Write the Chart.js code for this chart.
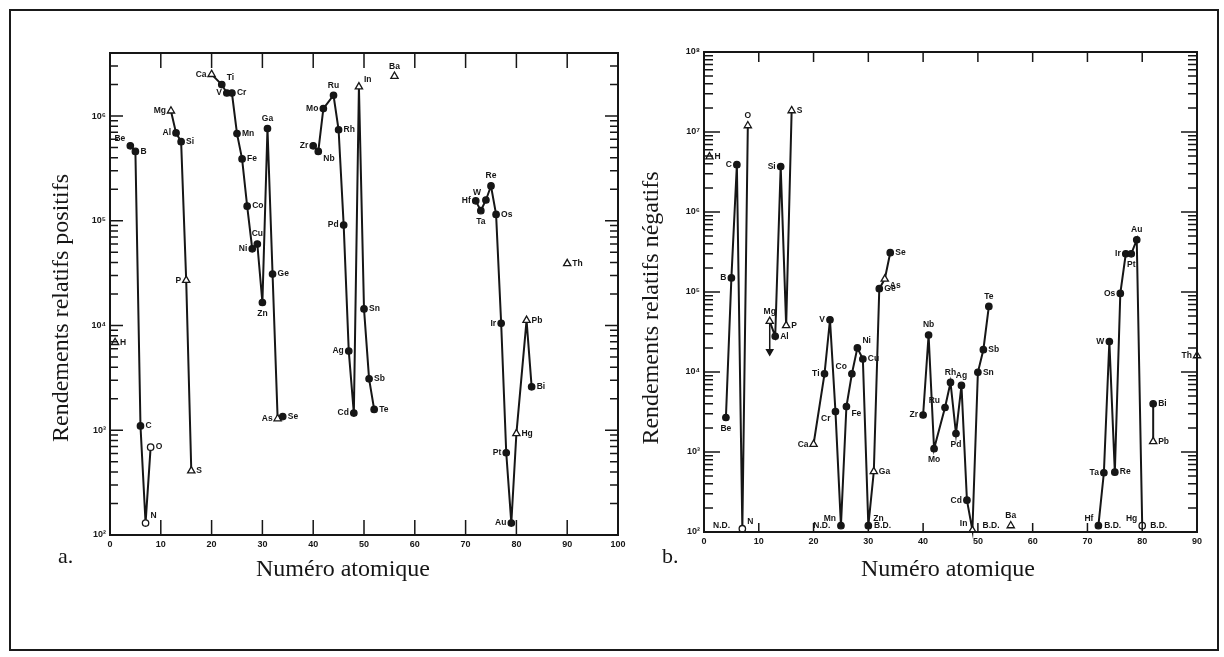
<!DOCTYPE html>
<html>
<head>
<meta charset="utf-8">
<script src="https://cdn.jsdelivr.net/npm/chart.js@4.4.0/dist/chart.umd.min.js"></script>
<style>
  html, body { margin: 0; padding: 0; background: #fff; }
  body { width: 1224px; height: 657px; position: relative; overflow: hidden; }
  #frame { position: absolute; left: 9px; top: 9px; width: 1206px; height: 638px; border: 2px solid #1a1a1a; }
  .pane { position: absolute; top: 0; height: 657px; }
</style>
</head>
<body>
<div id="frame"></div>
<div class="pane" style="left:0;width:640px"><canvas id="pos" width="640" height="657"></canvas></div>
<div class="pane" style="left:640px;width:584px"><canvas id="neg" width="584" height="657"></canvas></div>
<script>
// a. rendements relatifs positifs
const a1Z = [4, 5, 6, 7, 8]
const a1Y = [5.2e5, 4.6e5, 1.1e3, 1.3e2, 6.9e2]
const a1El = ['Be', 'B', 'C', 'N', 'O']
const a1Sym = ['o', 'o', 'o', 'c', 'c']
const a1Pos = ['tl', 'r', 'r', 'tr', 'r']

const a2Z = [12, 13, 14, 15, 16]
const a2Y = [1.12e6, 6.9e5, 5.7e5, 2.7e4, 4.1e2]
const a2El = ['Mg', 'Al', 'Si', 'P', 'S']
const a2Sym = ['t', 'o', 'o', 't', 't']
const a2Pos = ['l', 'l', 'r', 'l', 'r']

const a3Z = [20, 22, 23, 24, 25, 26, 27, 28, 29, 30, 31, 32, 33, 34]
const a3Y = [2.5e6, 2.0e6, 1.66e6, 1.66e6, 6.8e5, 3.9e5, 1.38e5, 5.4e4, 6.0e4, 1.66e4, 7.6e5, 3.1e4, 1.29e3, 1.35e3]
const a3El = ['Ca', 'Ti', 'V', 'Cr', 'Mn', 'Fe', 'Co', 'Ni', 'Cu', 'Zn', 'Ga', 'Ge', 'As', 'Se']
const a3Sym = ['t', 'o', 'o', 'o', 'o', 'o', 'o', 'o', 'o', 'o', 'o', 'o', 't', 'o']
const a3Pos = ['l', 'tr', 'l', 'r', 'r', 'r', 'r', 'l', 't', 'b', 't', 'r', 'l', 'r']

const a4Z = [40, 41, 42, 44, 45, 46, 47, 48, 49, 50, 51, 52]
const a4Y = [5.2e5, 4.6e5, 1.18e6, 1.58e6, 7.4e5, 9.1e4, 5.7e3, 1.46e3, 1.9e6, 1.44e4, 3.1e3, 1.58e3]
const a4El = ['Zr', 'Nb', 'Mo', 'Ru', 'Rh', 'Pd', 'Ag', 'Cd', 'In', 'Sn', 'Sb', 'Te']
const a4Sym = ['o', 'o', 'o', 'o', 'o', 'o', 'o', 'o', 't', 'o', 'o', 'o']
const a4Pos = ['l', 'br', 'l', 't', 'r', 'l', 'l', 'l', 'tr', 'r', 'r', 'r']

const a5Z = [72, 73, 74, 75, 76, 77, 78, 79, 80, 82, 83]
const a5Y = [1.55e5, 1.25e5, 1.58e5, 2.15e5, 1.15e5, 1.05e4, 6.1e2, 1.3e2, 9.3e2, 1.12e4, 2.6e3]
const a5El = ['Hf', 'Ta', 'W', 'Re', 'Os', 'Ir', 'Pt', 'Au', 'Hg', 'Pb', 'Bi']
const a5Sym = ['o', 'o', 'o', 'o', 'o', 'o', 'o', 'o', 't', 't', 'o']
const a5Pos = ['l', 'b', 'tl', 't', 'r', 'l', 'l', 'l', 'r', 'r', 'r']

const aSoloZ = [1, 56, 90]
const aSoloY = [6.9e3, 2.4e6, 3.9e4]
const aSoloEl = ['H', 'Ba', 'Th']
const aSoloPos = ['r', 't', 'r']

const aXTicks = [0, 10, 20, 30, 40, 50, 60, 70, 80, 90, 100]
const aYTicks = [1e2, 1e3, 1e4, 1e5, 1e6]

// b. rendements relatifs negatifs
const b1Z = [4, 5, 6, 7, 8]
const b1Y = [2.7e3, 1.5e5, 3.9e6, 1.1e2, 1.2e7]
const b1El = ['Be', 'B', 'C', 'N', 'O']
const b1Sym = ['o', 'o', 'o', 'c', 't']
const b1Pos = ['b', 'l', 'l', 'tr', 't']

const b2Z = [12, 13, 14, 15, 16]
const b2Y = [4.3e4, 2.8e4, 3.7e6, 3.8e4, 1.85e7]
const b2El = ['Mg', 'Al', 'Si', 'P', 'S']
const b2Sym = ['t', 'o', 'o', 't', 't']
const b2Pos = ['t', 'r', 'l', 'r', 'r']

const b3Z = [20, 22, 23, 24, 25, 26, 27, 28, 29, 30, 31, 32, 33, 34]
const b3Y = [1.25e3, 9.5e3, 4.5e4, 3.2e3, 1.2e2, 3.7e3, 9.5e3, 2.0e4, 1.45e4, 1.2e2, 5.7e2, 1.1e5, 1.45e5, 3.1e5]
const b3El = ['Ca', 'Ti', 'V', 'Cr', 'Mn', 'Fe', 'Co', 'Ni', 'Cu', 'Zn', 'Ga', 'Ge', 'As', 'Se']
const b3Sym = ['t', 'o', 'o', 'o', 'o', 'o', 'o', 'o', 'o', 'o', 't', 'o', 't', 'o']
const b3Pos = ['l', 'l', 'l', 'bl', 'tl', 'br', 'tl', 'tr', 'r', 'tr', 'r', 'r', 'br', 'r']

const b4Z = [40, 41, 42, 44, 45, 46, 47, 48, 49, 50, 51, 52]
const b4Y = [2.9e3, 2.9e4, 1.1e3, 3.6e3, 7.4e3, 1.7e3, 6.8e3, 2.5e2, 1.05e2, 9.9e3, 1.9e4, 6.6e4]
const b4El = ['Zr', 'Nb', 'Mo', 'Ru', 'Rh', 'Pd', 'Ag', 'Cd', 'In', 'Sn', 'Sb', 'Te']
const b4Sym = ['o', 'o', 'o', 'o', 'o', 'o', 'o', 'o', 't', 'o', 'o', 'o']
const b4Pos = ['l', 't', 'b', 'tl', 't', 'b', 't', 'l', 'tl', 'r', 'r', 't']

const b5Z = [72, 73, 74, 75, 76, 77, 78, 79, 80]
const b5Y = [1.2e2, 5.5e2, 2.4e4, 5.6e2, 9.6e4, 3.0e5, 3.0e5, 4.5e5, 1.2e2]
const b5El = ['Hf', 'Ta', 'W', 'Re', 'Os', 'Ir', 'Pt', 'Au', 'Hg']
const b5Sym = ['o', 'o', 'o', 'o', 'o', 'o', 'o', 'o', 'c']
const b5Pos = ['tl', 'l', 'l', 'r', 'l', 'l', 'b', 't', 'tl']

const b6Z = [82, 82]
const b6Y = [1.35e3, 4.0e3]
const b6El = ['Pb', 'Bi']
const b6Sym = ['t', 'o']
const b6Pos = ['r', 'r']

const bSoloZ = [1, 56, 90]
const bSoloY = [4.9e6, 1.2e2, 1.6e4]
const bSoloEl = ['H', 'Ba', 'Th']
const bSoloPos = ['r', 't', 'l']

// fleche sous Mg
const bArrowZ = [12, 12]
const bArrowY = [4.3e4, 1.8e4]

// N.D. / B.D. au pied de l'axe
const bNoteZ = [3.2, 21.5, 32.6, 52.4, 74.6, 83.0]
const bNoteTxt = ['N.D.', 'N.D.', 'B.D.', 'B.D.', 'B.D.', 'B.D.']

const bXTicks = [0, 10, 20, 30, 40, 50, 60, 70, 80, 90]
const bYTicks = [1e2, 1e3, 1e4, 1e5, 1e6, 1e7, 1e8]

const sup = { 2: '²', 3: '³', 4: '⁴', 5: '⁵', 6: '⁶', 7: '⁷', 8: '⁸' }
const INK = '#161616'

function chain(zs, ys, els, syms, pos) {
  return {
    data: zs.map((z, i) => ({ x: z, y: ys[i] })),
    showLine: true,
    borderColor: INK,
    borderWidth: 2,
    tension: 0,
    clip: false,
    pointStyle: syms.map(s => s == 't' ? 'triangle' : 'circle'),
    pointRadius: syms.map(s => s == 't' ? 4.2 : 3.2),
    pointBackgroundColor: syms.map(s => s == 'o' ? INK : '#fff'),
    pointBorderColor: INK,
    pointBorderWidth: 1.3,
    elLabels: els,
    elPos: pos
  }
}

function solo(zs, ys, els, pos) {
  var d = chain(zs, ys, els, zs.map(() => 't'), pos)
  d.showLine = false
  return d
}

function place(ctx, x, y, txt, pos) {
  var bx = x, by = y
  ctx.textAlign = 'center'
  if (pos.indexOf('l') >= 0) { ctx.textAlign = 'right'; bx = x - 5 }
  if (pos.indexOf('r') >= 0) { ctx.textAlign = 'left'; bx = x + 5 }
  if (pos.indexOf('t') >= 0) by = y - (pos.length == 1 ? 10 : 7)
  if (pos.indexOf('b') >= 0) by = y + (pos.length == 1 ? 11 : 7)
  ctx.fillText(txt, bx, by)
}

const deco = {
  id: 'deco',
  afterDraw(chart, args, o) {
    var ctx = chart.ctx
    var a = chart.chartArea
    var xs = chart.scales.x, ys = chart.scales.y
    ctx.save()
    ctx.strokeStyle = INK
    ctx.fillStyle = INK
    ctx.lineWidth = 2
    ctx.strokeRect(a.left, a.top, a.right - a.left, a.bottom - a.top)

    // graduations vers l'interieur
    ctx.lineWidth = 1.5
    ctx.beginPath()
    o.xTicks.forEach(v => {
      if (v <= xs.min || v >= xs.max) return
      var px = xs.getPixelForValue(v)
      ctx.moveTo(px, a.bottom); ctx.lineTo(px, a.bottom - o.xTickB)
      ctx.moveTo(px, a.top); ctx.lineTo(px, a.top + o.xTickT)
    })
    o.yTicks.forEach(dec => {
      for (var m = 1; m < 10; m++) {
        var v = dec * m
        if (v < ys.min || v > ys.max) continue
        var py = ys.getPixelForValue(v)
        var len = m == 1 ? o.yMajor : o.yMinor
        ctx.moveTo(a.left, py); ctx.lineTo(a.left + len, py)
        ctx.moveTo(a.right, py); ctx.lineTo(a.right - len, py)
      }
    })
    ctx.stroke()

    ctx.font = "bold 9px 'Liberation Sans'"
    ctx.textAlign = 'center'
    ctx.textBaseline = 'top'
    o.xTicks.forEach(v => ctx.fillText(String(v), xs.getPixelForValue(v), a.bottom + 5))
    ctx.textAlign = 'right'
    ctx.textBaseline = 'middle'
    o.yTicks.forEach(v => ctx.fillText('10' + sup[Math.round(Math.log10(v))], a.left - 4, ys.getPixelForValue(v)))

    // symboles des elements
    ctx.font = "bold 8.5px 'Liberation Sans'"
    ctx.textBaseline = 'middle'
    chart.data.datasets.forEach((ds, i) => {
      if (!ds.elLabels) return
      chart.getDatasetMeta(i).data.forEach((pt, j) => place(ctx, pt.x, pt.y, ds.elLabels[j], ds.elPos[j]))
    })
    if (o.notes) {
      ctx.textAlign = 'center'
      ctx.textBaseline = 'bottom'
      o.notes.z.forEach((z, i) => ctx.fillText(o.notes.txt[i], xs.getPixelForValue(z), a.bottom - 2))
    }

    ctx.font = "24px 'Liberation Serif'"
    ctx.textAlign = 'center'
    ctx.textBaseline = 'middle'
    ctx.fillText('Numéro atomique', o.xTitleX, o.xTitleY)
    ctx.textAlign = 'left'
    ctx.font = "22px 'Liberation Serif'"
    ctx.fillText(o.letter, o.letterX, o.letterY)
    ctx.translate(o.yTitleX, o.yTitleY)
    ctx.rotate(-Math.PI / 2)
    ctx.textAlign = 'center'
    ctx.font = "24px 'Liberation Serif'"
    ctx.fillText(o.yTitle, 0, 0)
    ctx.restore()
  }
}

function opts(xmax, ymax, pad, d) {
  return {
    responsive: false,
    animation: false,
    layout: { padding: pad },
    plugins: { legend: { display: false }, tooltip: { enabled: false }, deco: d },
    scales: {
      x: { type: 'linear', min: 0, max: xmax, display: false },
      y: { type: 'logarithmic', min: 100, max: ymax, display: false }
    }
  }
}

new Chart(document.getElementById('pos'), {
  type: 'scatter',
  data: {
    datasets: [
      chain(a1Z, a1Y, a1El, a1Sym, a1Pos),
      chain(a2Z, a2Y, a2El, a2Sym, a2Pos),
      chain(a3Z, a3Y, a3El, a3Sym, a3Pos),
      chain(a4Z, a4Y, a4El, a4Sym, a4Pos),
      chain(a5Z, a5Y, a5El, a5Sym, a5Pos),
      solo(aSoloZ, aSoloY, aSoloEl, aSoloPos)
    ]
  },
  options: opts(100, 4e6, { left: 110, top: 53, right: 22, bottom: 122 }, {
    xTicks: aXTicks, yTicks: aYTicks, xTickB: 15, xTickT: 15, yMajor: 13, yMinor: 8,
    xTitleX: 343, xTitleY: 570, letter: 'a.', letterX: 58, letterY: 557,
    yTitle: 'Rendements relatifs positifs', yTitleX: 62, yTitleY: 308
  }),
  plugins: [deco]
})

var arrow = {
  data: bArrowZ.map((z, i) => ({ x: z, y: bArrowY[i] })),
  showLine: true, borderColor: INK, borderWidth: 1.5, clip: false,
  pointStyle: 'triangle', pointRotation: 180, pointRadius: [0, 3.5],
  pointBackgroundColor: INK, pointBorderColor: INK
}

new Chart(document.getElementById('neg'), {
  type: 'scatter',
  data: {
    datasets: [
      chain(b1Z, b1Y, b1El, b1Sym, b1Pos),
      chain(b2Z, b2Y, b2El, b2Sym, b2Pos),
      chain(b3Z, b3Y, b3El, b3Sym, b3Pos),
      chain(b4Z, b4Y, b4El, b4Sym, b4Pos),
      chain(b5Z, b5Y, b5El, b5Sym, b5Pos),
      chain(b6Z, b6Y, b6El, b6Sym, b6Pos),
      solo(bSoloZ, bSoloY, bSoloEl, bSoloPos),
      arrow
    ]
  },
  options: opts(90, 1e8, { left: 64, top: 52, right: 27, bottom: 125 }, {
    xTicks: bXTicks, yTicks: bYTicks, xTickB: 9, xTickT: 10, yMajor: 16, yMinor: 9,
    notes: { z: bNoteZ, txt: bNoteTxt },
    xTitleX: 308, xTitleY: 570, letter: 'b.', letterX: 22, letterY: 557,
    yTitle: 'Rendements relatifs négatifs', yTitleX: 12, yTitleY: 308
  }),
  plugins: [deco]
})
</script>
</body>
</html>
